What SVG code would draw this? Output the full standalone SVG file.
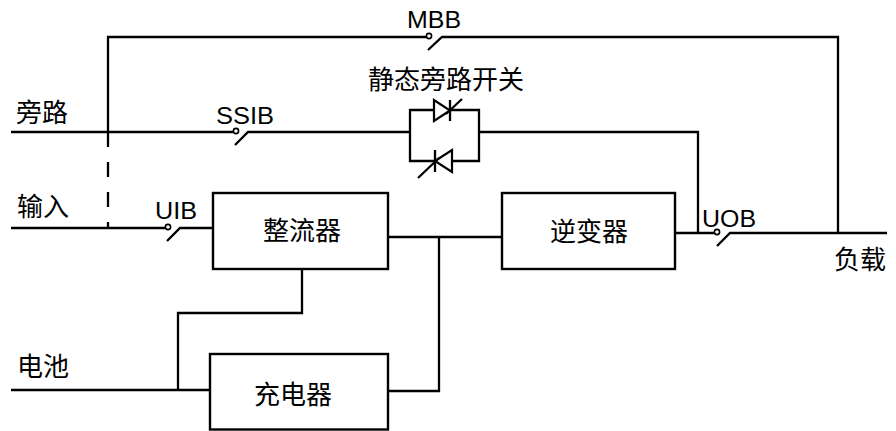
<svg xmlns="http://www.w3.org/2000/svg" width="896" height="431" viewBox="0 0 896 431">
<style>
.w{fill:none;stroke:#000;stroke-width:2.3;stroke-linecap:butt}
.box{fill:#fff;stroke:#000;stroke-width:2.4}
.sw{fill:#fff;stroke:#000;stroke-width:1.6}
.cn{font-family:"Noto Sans CJK SC","Noto Sans",sans-serif;font-size:26px;fill:#000}
.lt{font-family:"Liberation Sans",Arial,sans-serif;font-size:23px;fill:#000}
.th{fill:#fff;stroke:#000;stroke-width:2.2}
</style>
<rect width="896" height="431" fill="#fff"/>
<g id="connectors">
  <polyline class="w" points="108,132 108,37 426.5,37"/>
  <polyline class="w" points="428,50 442,37 838,37 838,233"/>
  <line class="w" x1="108" y1="132" x2="108" y2="228" stroke-dasharray="15 15"/>
  <line class="w" x1="11" y1="132" x2="233.5" y2="132"/>
  <polyline class="w" points="235,145 248,132 410,132"/>
  <polyline class="w" points="479,132 698,132 698,233"/>
  <line class="w" x1="11" y1="228" x2="165.5" y2="228"/>
  <polyline class="w" points="167,241 180,228 213,228"/>
  <line class="w" x1="388" y1="237" x2="502" y2="237"/>
  <polyline class="w" points="439,237 439,391 388,391"/>
  <polyline class="w" points="302,269 302,313 178,313 178,390"/>
  <line class="w" x1="11" y1="390" x2="210" y2="390"/>
  <line class="w" x1="675" y1="233" x2="714.5" y2="233"/>
  <polyline class="w" points="717,246 730,233 887,233"/>
</g>
<g id="switch-MBB">
  <circle class="sw" cx="429" cy="36" r="2.6"/>
  <text class="lt" x="407" y="28" textLength="54" lengthAdjust="spacingAndGlyphs">MBB</text>
</g>
<g id="switch-SSIB">
  <circle class="sw" cx="236" cy="131" r="2.6"/>
  <text class="lt" x="216" y="124" textLength="58" lengthAdjust="spacingAndGlyphs">SSIB</text>
</g>
<g id="switch-UIB">
  <circle class="sw" cx="168" cy="227" r="2.6"/>
  <text class="lt" x="155" y="219" textLength="42" lengthAdjust="spacingAndGlyphs">UIB</text>
</g>
<g id="switch-UOB">
  <circle class="sw" cx="717" cy="232" r="2.6"/>
  <text class="lt" x="702" y="227" textLength="54" lengthAdjust="spacingAndGlyphs">UOB</text>
</g>
<g id="static-bypass-switch">
  <polyline class="w" points="410,132 410,110 479,110 479,161 410,161 410,132"/>
  <polygon class="th" points="434,100 434,121 450,110.5"/>
  <line class="w" x1="450" y1="100" x2="450" y2="121"/>
  <line class="w" x1="446" y1="114" x2="462" y2="99"/>
  <polygon class="th" points="452,150 452,172 435,161"/>
  <line class="w" x1="435" y1="150" x2="435" y2="172"/>
  <line class="w" x1="418" y1="178" x2="439" y2="158"/>
  <text class="cn" x="446" y="89" text-anchor="middle">静态旁路开关</text>
</g>
<g id="rectifier">
  <rect class="box" x="213" y="193" width="175" height="76"/>
  <text class="cn" x="302" y="240" text-anchor="middle">整流器</text>
</g>
<g id="inverter">
  <rect class="box" x="502" y="193" width="173" height="76"/>
  <text class="cn" x="589" y="241" text-anchor="middle">逆变器</text>
</g>
<g id="charger">
  <rect class="box" x="210" y="354" width="178" height="75.5"/>
  <text class="cn" x="293" y="404" text-anchor="middle">充电器</text>
</g>
<g id="labels">
  <text class="cn" x="16" y="122">旁路</text>
  <text class="cn" x="17" y="216">输入</text>
  <text class="cn" x="17" y="376">电池</text>
  <text class="cn" x="834" y="269">负载</text>
</g>
</svg>
